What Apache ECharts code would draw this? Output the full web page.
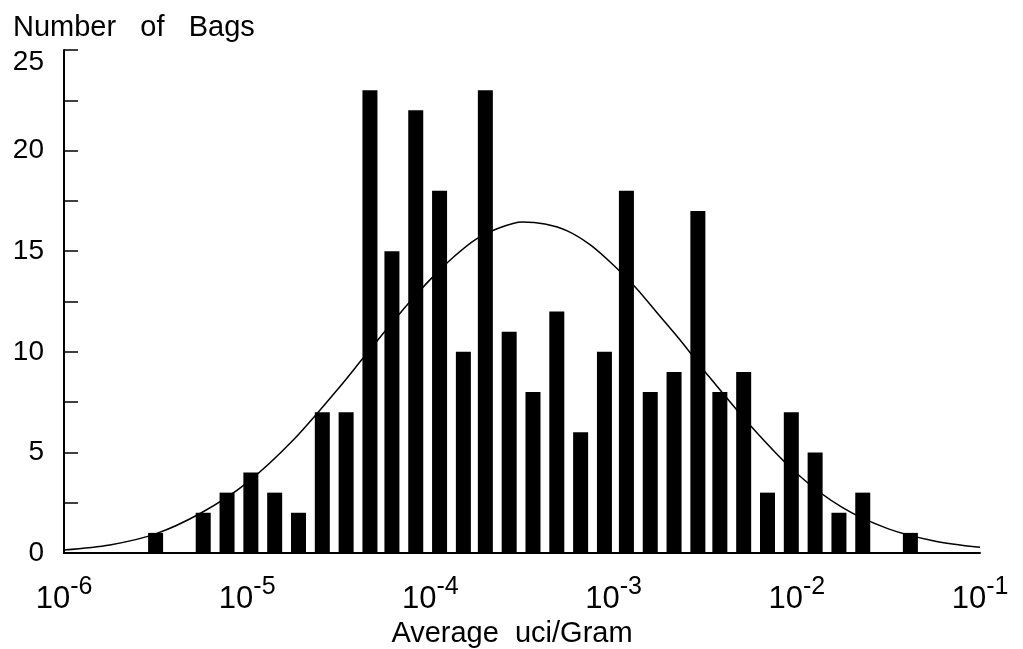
<!DOCTYPE html>
<html>
<head>
<meta charset="utf-8">
<script src="https://cdn.jsdelivr.net/npm/echarts@6/dist/echarts.min.js"></script>
<style>
  html, body { margin: 0; padding: 0; background: #fff; }
  #bags { width: 1023px; height: 649px; }
</style>
</head>
<body>
<div id="bags"></div>
<script>
// bin centres as powers of ten (log10 of uci/gram)
var binExp = [-5.50, -5.24, -5.11, -4.98, -4.85, -4.72, -4.59, -4.46, -4.33, -4.21,
              -4.08, -3.95, -3.82, -3.70, -3.57, -3.44, -3.31, -3.18, -3.05, -2.93,
              -2.80, -2.67, -2.54, -2.42, -2.29, -2.16, -2.03, -1.90, -1.77, -1.64, -1.38];
var bagCount = [1, 2, 3, 4, 3, 2, 7, 7, 23, 15,
                22, 18, 10, 23, 11, 8, 12, 6, 10, 18,
                8, 9, 17, 8, 9, 3, 7, 5, 2, 3, 1];

// fitted curve
var curveExp = [-6, -5.75, -5.5, -5.25, -5, -4.75, -4.5, -4.375, -4.25, -4.125, -4,
                -3.875, -3.75, -3.625, -3.5, -3.375, -3.25, -3.125, -3, -2.875,
                -2.75, -2.625, -2.5, -2.25, -2, -1.75, -1.5, -1.25, -1];
var curveCount = [0.15, 0.4, 0.95, 2.0, 3.5, 5.6, 8.2, 9.6, 11.0, 12.35, 13.6,
                  14.7, 15.6, 16.15, 16.45, 16.35, 16.0, 15.3, 14.3, 13.15,
                  11.8, 10.45, 9.0, 6.3, 3.95, 2.25, 1.2, 0.6, 0.28];

var chart = echarts.init(document.getElementById('bags'));

var bars = [];
for (var i = 0; i < binExp.length; i++) {
    bars.push([binExp[i], bagCount[i]]);
}
var curve = [];
for (var j = 0; j < curveExp.length; j++) {
    curve.push([curveExp[j], curveCount[j]]);
}

var font = 'Liberation Sans';

var option = {
    backgroundColor: '#fff',
    animation: false,
    title: {
        text: 'Number   of   Bags',
        left: 8,
        top: 8,
        textStyle: { fontFamily: font, fontSize: 29, fontWeight: 'normal', color: '#000' }
    },
    grid: { left: 64, right: 43, top: 50, bottom: 96, outerBoundsMode: 'none' },
    xAxis: {
        type: 'value',
        min: -6,
        max: -1,
        interval: 1,
        name: 'Average  uci/Gram',
        nameLocation: 'middle',
        nameGap: 60,
        nameTextStyle: { fontFamily: font, fontSize: 29, color: '#000', padding: [0, 20, 0, 0] },
        axisLine: { lineStyle: { color: '#000', width: 2 } },
        axisTick: { show: false },
        splitLine: { show: false },
        axisLabel: {
            margin: 22,
            formatter: function (v) {
                return '{b|10}{s|' + v + '}';
            },
            rich: {
                b: { fontFamily: font, fontSize: 31, color: '#000', lineHeight: 40, verticalAlign: 'bottom' },
                s: { fontFamily: font, fontSize: 25, color: '#000', lineHeight: 40, verticalAlign: 'top' }
            }
        }
    },
    yAxis: {
        type: 'value',
        min: 0,
        max: 25,
        interval: 5,
        axisLine: { show: true, lineStyle: { color: '#000', width: 2 } },
        axisTick: { show: true, inside: true, length: 14, lineStyle: { color: '#000', width: 1.5 } },
        minorTick: { show: true, splitNumber: 2, length: 14, lineStyle: { color: '#000', width: 1.5 } },
        splitLine: { show: false },
        axisLabel: {
            margin: 20,
            formatter: function (v) {
                return v === 25 ? '{top|25}' : '{n|' + v + '}';
            },
            rich: {
                n: { fontFamily: font, fontSize: 28, color: '#000' },
                top: { fontFamily: font, fontSize: 28, color: '#000', padding: [24, 0, 0, 0] }
            }
        }
    },
    series: [{
        name: 'bags',
        type: 'bar',
        barWidth: 15,
        itemStyle: { color: '#000' },
        data: bars
    }, {
        name: 'fit',
        type: 'line',
        smooth: 0.3,
        showSymbol: false,
        lineStyle: { color: '#000', width: 1.5 },
        data: curve
    }]
};
chart.setOption(option);
</script>
</body>
</html>
